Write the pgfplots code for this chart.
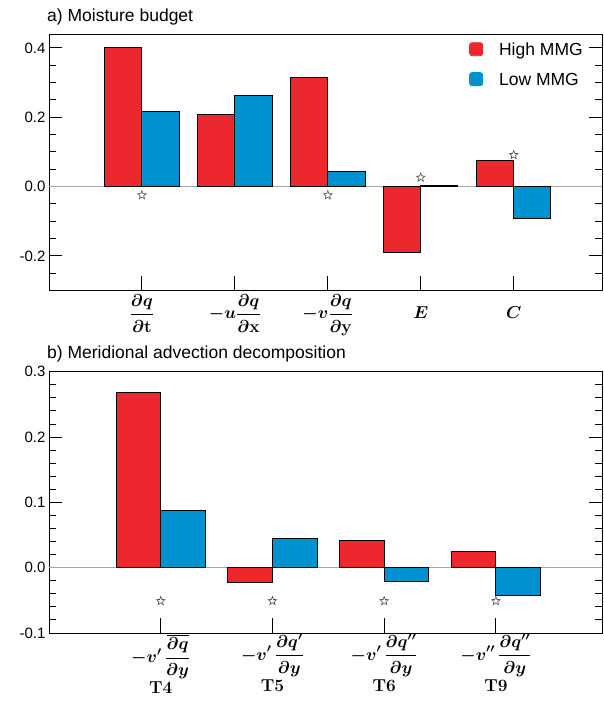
\documentclass[border=0pt]{standalone}
\usepackage[no-math]{fontspec}
\setmainfont{Liberation Sans}
\usepackage{amsmath}
\usepackage{pgfplots}
\pgfplotsset{compat=1.18}
\definecolor{hired}{RGB}{236,40,46}
\definecolor{loblue}{RGB}{0,146,208}
\pgfdeclareplotmark{ostar}{%
 \pgfpathmoveto{\pgfpointpolar{90}{\pgfplotmarksize}}%
 \pgfpathlineto{\pgfpointpolar{126}{0.42\pgfplotmarksize}}%
 \pgfpathlineto{\pgfpointpolar{162}{\pgfplotmarksize}}%
 \pgfpathlineto{\pgfpointpolar{198}{0.42\pgfplotmarksize}}%
 \pgfpathlineto{\pgfpointpolar{234}{\pgfplotmarksize}}%
 \pgfpathlineto{\pgfpointpolar{270}{0.42\pgfplotmarksize}}%
 \pgfpathlineto{\pgfpointpolar{306}{\pgfplotmarksize}}%
 \pgfpathlineto{\pgfpointpolar{342}{0.42\pgfplotmarksize}}%
 \pgfpathlineto{\pgfpointpolar{18}{\pgfplotmarksize}}%
 \pgfpathlineto{\pgfpointpolar{54}{0.42\pgfplotmarksize}}%
 \pgfpathclose\pgfusepathqstroke}
\pgfplotsset{
  panel/.style={
    scale only axis, width=553pt, xmin=0,
    axis line style={line width=1pt},
    tick style={black, line width=0.9pt},
    xtick pos=left, ytick pos=both, tick align=inside,
    xtick style={/pgfplots/major tick length=15pt},
    ytick style={/pgfplots/major tick length=13pt},
    minor tick length=7pt,
    yticklabel style={font=\fontsize{15}{18}\selectfont},
    xticklabel style={font=\boldmath\fontsize{16}{19}\selectfont, align=center},
    xtick={1,2,3,4,5},
  },
  redbar/.style={ybar, bar width=0.4, bar shift=-0.2, fill=hired, draw=black, line width=0.9pt,
    legend image code/.code={\fill[hired,rounded corners=2.5pt] (0pt,-6pt) rectangle (13pt,7pt); \path (27pt,0pt);}},
  bluebar/.style={ybar, bar width=0.4, bar shift=0.2, fill=loblue, draw=black, line width=0.9pt,
    legend image code/.code={\fill[loblue,rounded corners=2.5pt] (0pt,-6pt) rectangle (13pt,7pt); \path (27pt,0pt);}},
  stars/.style={only marks, mark=ostar, mark size=4.5pt, mark options={draw=black!70, line width=0.6pt}, forget plot},
  zeroline/.style={gray!70, line width=1.2pt, forget plot},
}
\begin{document}
\begin{tikzpicture}
\useasboundingbox (0pt,0pt) rectangle (603pt,-701pt);
\node[anchor=base west, font=\fontsize{17.5}{20}\selectfont, inner sep=0pt] at (47pt,-22pt) {a) Moisture budget};
\node[anchor=base west, font=\fontsize{17.5}{20}\selectfont, inner sep=0pt] at (47pt,-358pt) {b) Meridional advection decomposition};
\begin{axis}[panel, at={(49pt,-34pt)}, anchor=north west,
  height=256.5pt, xmax=5.95, ymin=-0.3, ymax=0.44,
  ytick={-0.2,0,0.2,0.4}, yticklabels={-0.2,0.0,0.2,0.4},
  minor ytick={-0.25,-0.15,-0.1,-0.05,0.05,0.1,0.15,0.25,0.3,0.35},
  xticklabels={
    {$\displaystyle\frac{\partial q}{\partial \mathbf{t}}$},
    {$\displaystyle -u\frac{\partial q}{\partial \mathbf{x}}$},
    {$\displaystyle -v\frac{\partial q}{\partial \mathbf{y}}$},
    {$\displaystyle E\vphantom{\frac{\partial q}{\partial y}}$},
    {$\displaystyle C\vphantom{\frac{\partial q}{\partial y}}$}},
  legend style={at={(rel axis cs:0.7595,0.975)}, anchor=north west, draw=none, fill=none,
    font=\fontsize{17.5}{20}\selectfont, row sep=12pt, inner sep=0pt},
  legend cell align=left,
]
\addplot[zeroline] coordinates {(0,0) (5.95,0)};
\addplot[redbar] coordinates {(1,0.402) (2,0.208) (3,0.315) (4,-0.190) (5,0.074)};
\addlegendentry{High MMG}
\addplot[bluebar] coordinates {(1,0.216) (2,0.264) (3,0.043) (4,0.003) (5,-0.093)};
\addlegendentry{Low MMG}
\addplot[stars] coordinates {(1,-0.025) (3,-0.025) (4,0.026) (5,0.091)};
\end{axis}
\begin{axis}[panel, at={(49pt,-371.7pt)}, anchor=north west,
  height=261.3pt, xmax=4.95, ymin=-0.1, ymax=0.3,
  ytick={-0.1,0,0.1,0.2,0.3}, yticklabels={-0.1,0.0,0.1,0.2,0.3},
  minor ytick={-0.08,-0.06,-0.04,-0.02,0.02,0.04,0.06,0.08,0.12,0.14,0.16,0.18,0.22,0.24,0.26,0.28},
  xtick={1,2,3,4},
  xticklabel style={font=\boldmath\fontsize{16.5}{18}\selectfont, inner sep=1pt},
  xticklabels={
    {$\displaystyle -v'\,\frac{\overline{\partial q}}{\partial y}$\\[2pt]$\mathbf{T4}$},
    {$\displaystyle -v'\,\frac{\partial q'}{\partial y}$\\[2pt]$\mathbf{T5}$},
    {$\displaystyle -v'\,\frac{\partial q''}{\partial y}$\\[2pt]$\mathbf{T6}$},
    {$\displaystyle -v''\,\frac{\partial q''}{\partial y}$\\[2pt]$\mathbf{T9}$}},
]
\addplot[zeroline] coordinates {(0,0) (4.95,0)};
\addplot[redbar] coordinates {(1,0.268) (2,-0.022) (3,0.041) (4,0.025)};
\addplot[bluebar] coordinates {(1,0.088) (2,0.044) (3,-0.021) (4,-0.042)};
\addplot[stars] coordinates {(1,-0.051) (2,-0.051) (3,-0.051) (4,-0.051)};
\end{axis}
\end{tikzpicture}
\end{document}
